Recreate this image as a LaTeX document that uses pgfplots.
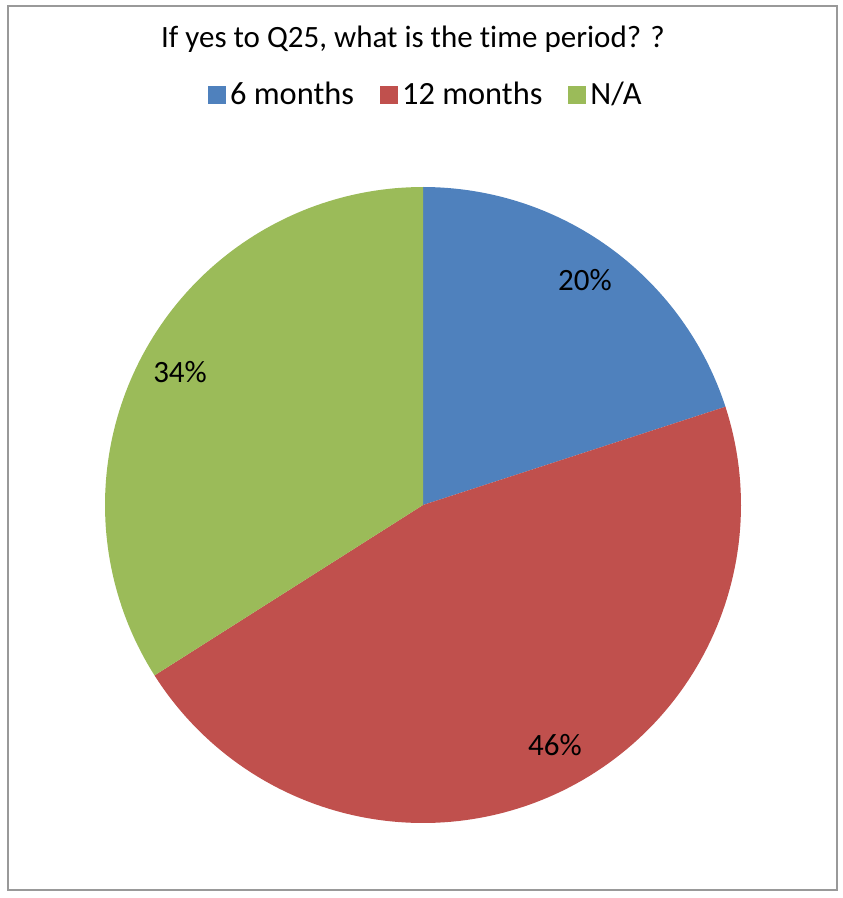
\documentclass[border=0pt]{standalone}
\usepackage{pgfplots}
\pgfplotsset{compat=1.18}
\usepackage{fontspec}
\setmainfont{Carlito}[Ligatures={NoCommon,NoContextual}]
\definecolor{c6}{HTML}{4F81BD}
\definecolor{c12}{HTML}{C0504D}
\definecolor{cna}{HTML}{9BBB59}
% data (percent)
\def\vA{20}
\def\vB{46}
\def\vC{34}
\begin{document}
\begin{tikzpicture}[x=0.5pt,y=0.5pt]
\path[use as bounding box] (0,0) rectangle (842,-898);
\draw[color=black!40, line width=1pt] (8,-6) rectangle (837,-890);
\node[font=\fontsize{15.5}{18}\selectfont, anchor=base] at (413,-48) {If yes to Q25, what is the time period? ?};
\pgfmathsetmacro{\cA}{\vA}
\pgfmathsetmacro{\cB}{\vA+\vB}
\pgfmathsetmacro{\cC}{\vA+\vB+\vC}
\begin{axis}[at={(211.5pt,-252.5pt)}, anchor=center, scale only axis,
  width=318pt, height=318pt, xmin=-1, xmax=1, ymin=-1, ymax=1,
  hide axis, clip=false,
  legend columns=3,
  legend style={draw=none, fill=none, at={(rel axis cs:0.506,1.145)}, anchor=center,
    font=\fontsize{16.2}{19}\selectfont,
    /tikz/every even column/.append style={column sep=11pt}},
  legend image code/.code={\fill[#1] (-2.5pt,-4.5pt) rectangle (6.5pt,4.5pt);},
  ]
\addplot[fill=c6, draw=none, domain=0:\cA, samples=80, variable=\t]
  ({cos(90-3.6*\t)},{sin(90-3.6*\t)}) -- (axis cs:0,0) -- cycle;
\addlegendentry{6 months}
\addplot[fill=c12, draw=none, domain=\cA:\cB, samples=120, variable=\t]
  ({cos(90-3.6*\t)},{sin(90-3.6*\t)}) -- (axis cs:0,0) -- cycle;
\addlegendentry{12 months}
\addplot[fill=cna, draw=none, domain=\cB:\cC, samples=100, variable=\t]
  ({cos(90-3.6*\t)},{sin(90-3.6*\t)}) -- (axis cs:0,0) -- cycle;
\addlegendentry{N/A}
\node[font=\fontsize{15.5}{18}\selectfont] at (axis cs:0.509,0.708) {20\%};
\node[font=\fontsize{15.5}{18}\selectfont] at (axis cs:0.415,-0.755) {46\%};
\node[font=\fontsize{15.5}{18}\selectfont] at (axis cs:-0.764,0.418) {34\%};
\end{axis}
\end{tikzpicture}
\end{document}
